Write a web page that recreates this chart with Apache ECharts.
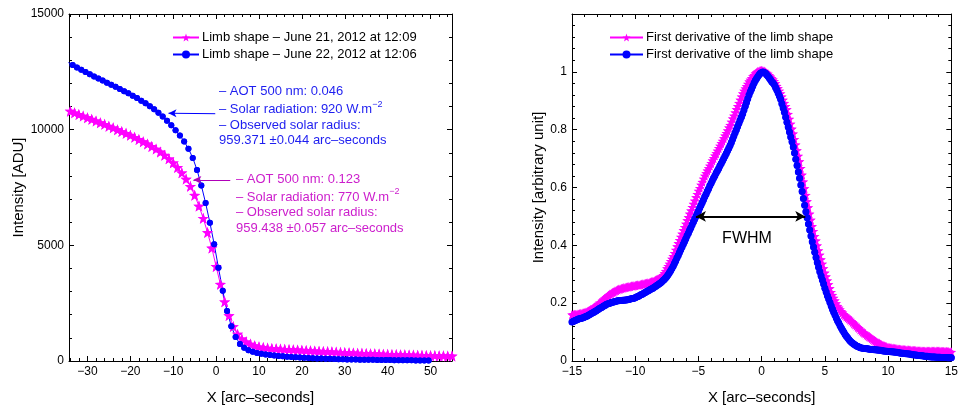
<!DOCTYPE html>
<html><head><meta charset="utf-8">
<script src="https://cdn.jsdelivr.net/npm/echarts@6/dist/echarts.min.js"></script>
<style>html,body{margin:0;padding:0;background:#fff}#c{width:961px;height:410px}</style>
</head><body><div id="c"></div>
<script>
// ---- Left plot: limb shapes (Intensity [ADU] vs X [arc-seconds]) ----
const limbStarX = [-34,-33,-32,-31,-30,-29,-28,-27,-26,-25,-24,-23,-22,-21,-20,-19,-18,-17,-16,-15,-14,-13,-12,-11,-10,-9,-8,-7,-6,-5,-4,-3,-2,-1,0,1,2,3,4,5,6,7,8,9,10,11,12,13,14,15,16,17,18,19,20,21,22,23,24,25,26,27,28,29,30,31,32,33,34,35,36,37,38,39,40,41,42,43,44,45,46,47,48,49,50,51,52,53,54,55];
const limbStarY = [10800,10730,10660,10590,10520,10450,10380,10300,10230,10150,10080,10000,9920,9840,9760,9670,9580,9480,9380,9275,9160,9035,8895,8740,8565,8365,8135,7865,7550,7165,6695,6170,5555,4885,4090,3320,2560,1965,1490,1160,960,830,730,660,615,585,560,545,530,518,507,496,486,476,466,456,446,436,426,416,406,396,386,376,366,357,348,340,332,324,317,310,303,296,290,284,278,272,266,261,256,251,246,241,237,233,229,225,221,217];
const limbDotX = [-34.45,-33.45,-32.45,-31.45,-30.45,-29.45,-28.45,-27.45,-26.45,-25.45,-24.45,-23.45,-22.45,-21.45,-20.45,-19.45,-18.45,-17.45,-16.45,-15.45,-14.45,-13.45,-12.45,-11.45,-10.45,-9.45,-8.45,-7.45,-6.45,-5.45,-4.45,-3.45,-2.45,-1.45,-0.45,0.55,1.55,2.55,3.55,4.55,5.55,6.55,7.55,8.55,9.55,10.55,11.55,12.55,13.55,14.55,15.55,16.55,17.55,18.55,19.55,20.55,21.55,22.55,23.55,24.55,25.55,26.55,27.55,28.55,29.55,30.55,31.55,32.55,33.55,34.55,35.55,36.55,37.55,38.55,39.55,40.55,41.55,42.55,43.55,44.55,45.55,46.55,47.55,48.55,49.55];
const limbDotY = [12900,12795,12690,12590,12490,12395,12300,12210,12120,12030,11940,11850,11760,11665,11570,11470,11365,11255,11140,11015,10880,10730,10565,10385,10190,9980,9750,9490,9180,8780,8260,7590,6830,5980,5050,4030,3040,2160,1500,1040,740,570,470,400,350,310,280,255,235,215,200,185,170,160,150,140,130,120,112,105,98,92,86,80,75,70,66,62,58,55,52,49,46,43,40,38,36,34,32,30,28,26,24,22,20];

// ---- Right plot: first derivatives (normalised), sampled every 0.1 arc-second ----
const derivX = [
-15,-14.9,-14.8,-14.7,-14.6,-14.5,-14.4,-14.3,-14.2,-14.1,
-14,-13.9,-13.8,-13.7,-13.6,-13.5,-13.4,-13.3,-13.2,-13.1,
-13,-12.9,-12.8,-12.7,-12.6,-12.5,-12.4,-12.3,-12.2,-12.1,
-12,-11.9,-11.8,-11.7,-11.6,-11.5,-11.4,-11.3,-11.2,-11.1,
-11,-10.9,-10.8,-10.7,-10.6,-10.5,-10.4,-10.3,-10.2,-10.1,
-10,-9.9,-9.8,-9.7,-9.6,-9.5,-9.4,-9.3,-9.2,-9.1,
-9,-8.9,-8.8,-8.7,-8.6,-8.5,-8.4,-8.3,-8.2,-8.1,
-8,-7.9,-7.8,-7.7,-7.6,-7.5,-7.4,-7.3,-7.2,-7.1,
-7,-6.9,-6.8,-6.7,-6.6,-6.5,-6.4,-6.3,-6.2,-6.1,
-6,-5.9,-5.8,-5.7,-5.6,-5.5,-5.4,-5.3,-5.2,-5.1,
-5,-4.9,-4.8,-4.7,-4.6,-4.5,-4.4,-4.3,-4.2,-4.1,
-4,-3.9,-3.8,-3.7,-3.6,-3.5,-3.4,-3.3,-3.2,-3.1,
-3,-2.9,-2.8,-2.7,-2.6,-2.5,-2.4,-2.3,-2.2,-2.1,
-2,-1.9,-1.8,-1.7,-1.6,-1.5,-1.4,-1.3,-1.2,-1.1,
-1,-0.9,-0.8,-0.7,-0.6,-0.5,-0.4,-0.3,-0.2,-0.1,
0,0.1,0.2,0.3,0.4,0.5,0.6,0.7,0.8,0.9,
1,1.1,1.2,1.3,1.4,1.5,1.6,1.7,1.8,1.9,
2,2.1,2.2,2.3,2.4,2.5,2.6,2.7,2.8,2.9,
3,3.1,3.2,3.3,3.4,3.5,3.6,3.7,3.8,3.9,
4,4.1,4.2,4.3,4.4,4.5,4.6,4.7,4.8,4.9,
5,5.1,5.2,5.3,5.4,5.5,5.6,5.7,5.8,5.9,
6,6.1,6.2,6.3,6.4,6.5,6.6,6.7,6.8,6.9,
7,7.1,7.2,7.3,7.4,7.5,7.6,7.7,7.8,7.9,
8,8.1,8.2,8.3,8.4,8.5,8.6,8.7,8.8,8.9,
9,9.1,9.2,9.3,9.4,9.5,9.6,9.7,9.8,9.9,
10,10.1,10.2,10.3,10.4,10.5,10.6,10.7,10.8,10.9,
11,11.1,11.2,11.3,11.4,11.5,11.6,11.7,11.8,11.9,
12,12.1,12.2,12.3,12.4,12.5,12.6,12.7,12.8,12.9,
13,13.1,13.2,13.3,13.4,13.5,13.6,13.7,13.8,13.9,
14,14.1,14.2,14.3,14.4,14.5,14.6,14.7,14.8,14.9,
15];
const derivStarY = [
.160,.160,.161,.161,.162,.162,.163,.164,.165,.166,
.167,.169,.171,.173,.175,.178,.181,.184,.187,.190,
.193,.197,.201,.204,.208,.212,.216,.220,.224,.227,
.231,.234,.237,.239,.242,.244,.246,.248,.249,.251,
.252,.253,.254,.255,.256,.257,.258,.259,.259,.260,
.261,.262,.263,.263,.264,.265,.266,.267,.268,.269,
.270,.271,.272,.274,.275,.277,.279,.281,.283,.285,
.288,.292,.297,.303,.311,.320,.328,.336,.345,.353,
.362,.373,.384,.396,.407,.418,.429,.440,.452,.463,
.474,.486,.497,.509,.520,.532,.543,.554,.566,.577,
.588,.598,.609,.619,.630,.640,.649,.658,.666,.675,
.684,.693,.701,.710,.718,.727,.736,.744,.753,.761,
.770,.779,.788,.797,.807,.816,.827,.838,.848,.859,
.870,.881,.892,.903,.914,.925,.934,.942,.950,.958,
.966,.972,.978,.984,.989,.994,.998,1.001,1.003,1.004,
1.005,1.004,1.002,.999,.996,.993,.988,.983,.978,.973,
.968,.960,.951,.943,.934,.925,.914,.903,.892,.881,
.870,.854,.837,.820,.803,.786,.767,.748,.728,.709,
.690,.667,.644,.620,.597,.574,.552,.531,.509,.488,
.466,.449,.432,.416,.399,.382,.367,.351,.336,.320,
.305,.292,.278,.265,.251,.238,.228,.218,.209,.199,
.190,.184,.178,.172,.167,.161,.157,.153,.150,.146,
.142,.138,.134,.129,.125,.121,.117,.113,.108,.104,
.100,.097,.094,.090,.087,.084,.081,.078,.074,.071,
.068,.066,.063,.061,.058,.056,.054,.052,.050,.049,
.047,.046,.045,.045,.044,.043,.042,.042,.041,.041,
.040,.040,.039,.039,.038,.038,.038,.037,.037,.036,
.036,.036,.036,.035,.035,.035,.035,.034,.034,.034,
.034,.034,.034,.034,.034,.034,.034,.034,.034,.034,
.034,.034,.033,.033,.033,.033,.033,.032,.032,.031,
.031];
const derivDotY = [
.135,.137,.139,.141,.143,.145,.146,.147,.149,.150,
.152,.154,.156,.158,.161,.163,.166,.168,.171,.173,
.176,.179,.182,.184,.187,.190,.192,.195,.197,.199,
.200,.202,.203,.204,.206,.207,.208,.208,.209,.209,
.210,.210,.211,.211,.212,.213,.214,.215,.216,.217,
.219,.221,.223,.225,.228,.230,.232,.235,.237,.240,
.242,.245,.247,.250,.252,.255,.258,.261,.264,.267,
.270,.274,.278,.282,.287,.292,.298,.305,.312,.320,
.328,.337,.346,.356,.365,.375,.385,.394,.404,.413,
.423,.433,.442,.452,.461,.471,.481,.490,.500,.509,
.519,.529,.539,.548,.558,.568,.577,.587,.596,.606,
.615,.624,.633,.641,.650,.658,.666,.675,.683,.692,
.700,.709,.718,.727,.736,.745,.756,.767,.778,.789,
.800,.811,.822,.833,.844,.855,.868,.881,.894,.907,
.920,.931,.941,.951,.961,.970,.977,.984,.990,.995,
.998,.999,.998,.995,.990,.985,.979,.973,.966,.961,
.955,.946,.937,.927,.916,.905,.890,.875,.860,.843,
.826,.809,.792,.775,.758,.740,.719,.698,.676,.654,
.632,.609,.586,.562,.539,.516,.495,.474,.453,.432,
.412,.394,.376,.358,.341,.324,.309,.294,.280,.266,
.252,.239,.226,.214,.202,.190,.179,.169,.159,.149,
.139,.131,.122,.114,.106,.099,.092,.086,.080,.074,
.069,.065,.061,.058,.055,.052,.050,.048,.046,.045,
.044,.043,.043,.042,.042,.041,.041,.040,.040,.039,
.039,.038,.038,.037,.037,.036,.035,.035,.034,.034,
.033,.033,.032,.032,.031,.031,.030,.030,.029,.028,
.028,.027,.027,.026,.025,.025,.024,.024,.023,.022,
.022,.021,.021,.020,.019,.019,.018,.018,.017,.016,
.016,.016,.015,.015,.014,.014,.014,.014,.013,.013,
.013,.013,.012,.012,.012,.012,.012,.011,.011,.011,
.011];

// ---- Texts ----
const legendLeft = ['Limb shape \u2013 June 21, 2012 at 12:09', 'Limb shape \u2013 June 22, 2012 at 12:06'];
const legendRight = ['First derivative of the limb shape', 'First derivative of the limb shape'];
const noteBlue = ['\u2013 AOT 500 nm: 0.046', '\u2013 Solar radiation: 920 W.m{s|\u22122}', '\u2013 Observed solar radius:', '959.371 \u00b10.044 arc\u2013seconds'];
const noteMagenta = ['\u2013 AOT 500 nm: 0.123', '\u2013 Solar radiation: 770 W.m{s|\u22122}', '\u2013 Observed solar radius:', '959.438 \u00b10.057 arc\u2013seconds'];
// arrows in data coordinates
const arrowBlue = [[-0.2, 10690], [-11.1, 10710]];
const arrowMagenta = [[3.3, 7820], [-5.3, 7830]];
const fwhm = [[-5.2, 0.5], [3.45, 0.5]];

const FONT = 'Liberation Sans';
const BLUE = '#0000ff', MAG = '#ff00ff';
const STAR = 'path://M0,-10 L2.35,-3.24 L9.51,-3.09 L3.8,1.24 L5.88,8.09 L0,4 L-5.88,8.09 L-3.8,1.24 L-9.51,-3.09 L-2.35,-3.24 Z';
const zip = (xs, ys) => xs.map((x, i) => [x, ys[i]]);
const minus = v => String(v).replace('-', '\u2212');

function axisCommon(extra) {
  return Object.assign({
    type: 'value',
    axisLine: { show: true, onZero: false, lineStyle: { color: '#000', width: 1 } },
    axisTick: { show: true, inside: true, length: 5, lineStyle: { color: '#000' } },
    minorTick: { show: true, splitNumber: 5, length: 3, lineStyle: { color: '#000' } },
    splitLine: { show: false },
    axisLabel: { color: '#000', fontFamily: FONT, fontSize: 12, margin: 5, formatter: minus },
    nameTextStyle: { color: '#000', fontFamily: FONT, fontSize: 15 },
    nameLocation: 'middle'
  }, extra);
}
function mirror(base, pos) {
  const a = axisCommon(base);
  a.position = pos; a.axisLabel = { show: false }; a.name = '';
  return a;
}

const LX = { gridIndex: 0, min: -34.3, max: 55, splitNumber: 10 };
const LY = { gridIndex: 0, min: 0, max: 15000, interval: 5000 };
const RX = { gridIndex: 1, min: -15, max: 15, interval: 5 };
const RY = { gridIndex: 1, min: 0, max: 1.2, interval: 0.2 };

const chart = echarts.init(document.getElementById('c'), null, { renderer: 'canvas' });

function noteText(lines, x, ys, color) {
  return lines.map((t, i) => ({
    type: 'text', x: x, y: ys[i], silent: true,
    style: {
      text: t, fill: color, font: '13px "' + FONT + '"', verticalAlign: 'middle', align: 'left', lineHeight: 19,
      rich: { s: { fontSize: 9, fontFamily: FONT, fill: color, verticalAlign: 'top', lineHeight: 10 } }
    }
  }));
}
function lineSeries(name, xi, xs, ys, symbol, size, color, extra) {
  return Object.assign({ name: name, type: 'line', xAxisIndex: xi, yAxisIndex: xi, data: zip(xs, ys),
    symbol: symbol, symbolSize: size, showAllSymbol: true, itemStyle: { color: color },
    lineStyle: { color: color, width: 1 }, clip: true, z: 2 }, extra || {});
}
function dotSeries(xi, xs, ys, symbol, size, color) {
  return { name: '_pts', type: 'scatter', xAxisIndex: xi, yAxisIndex: xi, data: zip(xs, ys),
    symbol: symbol, symbolSize: size, itemStyle: { color: color, opacity: 1 }, clip: true, z: 2, silent: true };
}

chart.setOption({
  animation: false,
  backgroundColor: '#fff',
  grid: [
    { left: 69, top: 14, width: 383, height: 351 },
    { left: 572, top: 14, width: 383, height: 351 }
  ],
  xAxis: [
    axisCommon(Object.assign({}, LX, { position: 'bottom', name: 'X [arc\u2013seconds]', nameGap: 29,
      axisLabel: { color: '#000', fontFamily: FONT, fontSize: 12, margin: 5, formatter: minus, showMinLabel: false, showMaxLabel: false } })),
    mirror(LX, 'top'),
    axisCommon(Object.assign({}, RX, { position: 'bottom', name: 'X [arc\u2013seconds]', nameGap: 29 })),
    mirror(RX, 'top')
  ],
  yAxis: [
    axisCommon(Object.assign({}, LY, { position: 'left', name: 'Intensity [ADU]', nameGap: 43 })),
    mirror(LY, 'right'),
    axisCommon(Object.assign({}, RY, { position: 'left', name: 'Intensity [arbitrary unit]', nameGap: 25,
      axisLabel: { color: '#000', fontFamily: FONT, fontSize: 12, margin: 5, formatter: v => (v > 1.05 ? '' : String(v)) } })),
    mirror(RY, 'right')
  ],
  legend: [
    { data: ['limb21', 'limb22'], orient: 'vertical', left: 167, top: 26, itemWidth: 26, itemHeight: 10, itemGap: 4,
      formatter: n => (n === 'limb21' ? legendLeft[0] : legendLeft[1]),
      textStyle: { color: '#000', fontFamily: FONT, fontSize: 13, padding: [0, 0, 0, -2] }, selectedMode: false },
    { data: ['der21', 'der22'], orient: 'vertical', left: 604, top: 26, itemWidth: 33, itemHeight: 10, itemGap: 4,
      formatter: n => (n === 'der21' ? legendRight[0] : legendRight[1]),
      textStyle: { color: '#000', fontFamily: FONT, fontSize: 13, padding: [0, 0, 0, -2] }, selectedMode: false }
  ],
  series: [
    lineSeries('limb21', 0, limbStarX, limbStarY, STAR, 11, MAG, {
      markLine: { silent: true, symbol: ['none', 'arrow'], symbolSize: [6, 8], label: { show: false },
        lineStyle: { color: '#b000b8', width: 1, type: 'solid' },
        data: [[{ coord: arrowMagenta[0] }, { coord: arrowMagenta[1] }]] } }),
    dotSeries(0, limbStarX, limbStarY, STAR, 11, MAG),
    lineSeries('limb22', 0, limbDotX, limbDotY, 'circle', 6, BLUE, {
      markLine: { silent: true, symbol: ['none', 'arrow'], symbolSize: [6, 8], label: { show: false },
        lineStyle: { color: BLUE, width: 1, type: 'solid' },
        data: [[{ coord: arrowBlue[0] }, { coord: arrowBlue[1] }]] } }),
    dotSeries(0, limbDotX, limbDotY, 'circle', 6, BLUE),
    lineSeries('der21', 2, derivX, derivStarY, STAR, 9, MAG),
    dotSeries(2, derivX, derivStarY, STAR, 9.5, MAG),
    lineSeries('der22', 2, derivX, derivDotY, 'circle', 7, BLUE, {
      markLine: { silent: true, symbol: ['arrow', 'arrow'], symbolSize: [8, 10], label: { show: false },
        lineStyle: { color: '#000', width: 2, type: 'solid' },
        data: [[{ coord: fwhm[0] }, { coord: fwhm[1] }]] } }),
    dotSeries(2, derivX, derivDotY, 'circle', 6.5, BLUE)
  ],
  graphic: [].concat(
    noteText(noteBlue, 219, [91.7, 109.5, 125.7, 140.5], '#1e1ef0'),
    noteText(noteMagenta, 236, [179, 197, 212, 228.5], '#cc1ecc'),
    [{ type: 'text', x: 747, y: 238.5, silent: true,
       style: { text: 'FWHM', fill: '#000', font: '16px "' + FONT + '"', align: 'center', verticalAlign: 'middle' } }]
  )
});
</script>
</body></html>
